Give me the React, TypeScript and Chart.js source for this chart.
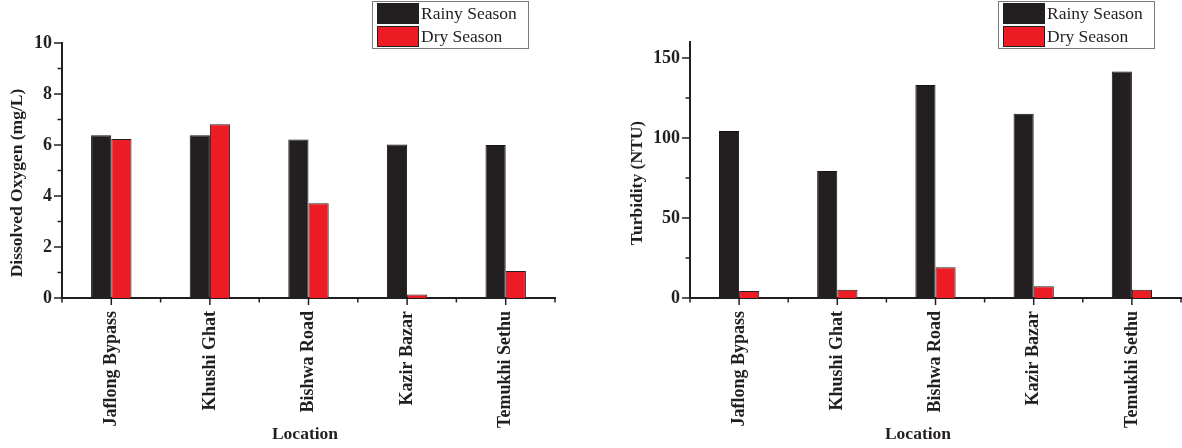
import React, { useEffect, useRef } from 'react';
import { Chart, registerables } from 'chart.js';

Chart.register(...registerables);

// ---------- data ----------
const LOCATIONS = ['Jaflong Bypass', 'Khushi Ghat', 'Bishwa Road', 'Kazir Bazar', 'Temukhi Sethu'];
const SERIES_NAMES = ['Rainy Season', 'Dry Season'];

const DO_RAINY = [6.38, 6.38, 6.22, 6.02, 6.0];
const DO_DRY = [6.24, 6.81, 3.72, 0.14, 1.06];

const TURB_RAINY = [104.4, 79.4, 133.1, 115.2, 141.5];
const TURB_DRY = [4.3, 5.2, 19.2, 7.3, 5.2];

const DO_TICKS = [0, 2, 4, 6, 8, 10];
const DO_MINOR_TICKS = [1, 3, 5, 7, 9];
const TURB_TICKS = [0, 50, 100, 150];
const TURB_MINOR_TICKS = [25, 75, 125];

const X_TITLE = 'Location';
const DO_TITLE = 'Dissolved Oxygen (mg/L)';
const TURB_TITLE = 'Turbidity (NTU)';

// ---------- style ----------
const INK = '#231f20';
const RAINY_COLOR = '#231f20';
const DRY_COLOR = '#ed1c24';
const FONT = '"Liberation Serif", "Times New Roman", serif';

const decorPlugin = {
  id: 'decor',
  afterDraw(chart: any, _args: any, opts: any) {
    const ctx = chart.ctx as CanvasRenderingContext2D;
    const xs = chart.scales.x;
    const ys = chart.scales.y;
    const area = chart.chartArea;
    ctx.save();
    ctx.strokeStyle = INK;
    ctx.lineWidth = 1.5;
    const line = (x1: number, y1: number, x2: number, y2: number) => {
      ctx.beginPath();
      ctx.moveTo(x1, y1);
      ctx.lineTo(x2, y2);
      ctx.stroke();
    };
    // y ticks
    for (const v of opts.majorTicks) {
      const py = ys.getPixelForValue(v);
      line(area.left - 8, py, area.left, py);
    }
    for (const v of opts.minorTicks) {
      const py = ys.getPixelForValue(v);
      line(area.left - 4.5, py, area.left, py);
    }
    // x ticks: centres (long) and boundaries (short)
    const n = chart.data.labels.length;
    for (let i = 0; i < n; i++) {
      const px = xs.getPixelForValue(i);
      line(px, area.bottom, px, area.bottom + 7);
    }
    for (let i = 0; i <= n; i++) {
      const px = xs.getPixelForValue(i - 0.5);
      line(px, area.bottom, px, area.bottom + 4.5);
    }
    // axis titles
    ctx.fillStyle = INK;
    ctx.font = `bold 17.5px ${FONT}`;
    ctx.textAlign = 'center';
    ctx.textBaseline = 'middle';
    ctx.fillText(opts.xTitle, opts.xTitleX, opts.xTitleY);
    ctx.save();
    ctx.translate(opts.yTitleX, opts.yTitleY);
    ctx.rotate(-Math.PI / 2);
    ctx.fillText(opts.yTitle, 0, 0);
    ctx.restore();
    // legend box
    const L = opts.legend;
    ctx.lineWidth = 1;
    ctx.strokeStyle = '#7a7a7a';
    ctx.fillStyle = '#ffffff';
    ctx.fillRect(L.x, L.y, L.w, L.h);
    ctx.strokeRect(L.x + 0.5, L.y + 0.5, L.w - 1, L.h - 1);
    ctx.font = `17.5px ${FONT}`;
    ctx.textAlign = 'left';
    chart.data.datasets.forEach((ds: any, i: number) => {
      const sy = L.y + 2.5 + i * 23;
      ctx.fillStyle = ds.backgroundColor;
      ctx.fillRect(L.x + 5.5, sy, 41, 20);
      ctx.strokeStyle = INK;
      ctx.strokeRect(L.x + 5.5, sy, 41, 20);
      ctx.fillStyle = INK;
      ctx.fillText(ds.label, L.x + 49, sy + 10.5);
    });
    ctx.restore();
  },
};

function makeConfig(p: {
  rainy: number[];
  dry: number[];
  max: number;
  ticks: number[];
  minor: number[];
  yWidth: number;
  padRight: number;
  padTop: number;
  yTitle: string;
  yTitleX: number;
  xTitleX: number;
  legendX: number;
}): any {
  return {
    type: 'bar',
    data: {
      labels: LOCATIONS,
      datasets: [
        { label: SERIES_NAMES[0], data: p.rainy, backgroundColor: RAINY_COLOR, borderColor: '#151313', borderWidth: 1 },
        { label: SERIES_NAMES[1], data: p.dry, backgroundColor: DRY_COLOR, borderColor: INK, borderWidth: 1 },
      ],
    },
    options: {
      responsive: false,
      animation: false,
      layout: { padding: { left: 0, right: p.padRight, top: p.padTop, bottom: 0 } },
      datasets: { bar: { categoryPercentage: 0.41, barPercentage: 1 } },
      plugins: {
        legend: { display: false },
        tooltip: { enabled: false },
        decor: {
          majorTicks: p.ticks,
          minorTicks: p.minor,
          xTitle: X_TITLE,
          xTitleX: p.xTitleX,
          xTitleY: 434,
          yTitle: p.yTitle,
          yTitleX: p.yTitleX,
          yTitleY: 183,
          legend: { x: p.legendX, y: 1, w: 157, h: 48 },
        },
      },
      scales: {
        x: {
          grid: { display: false, drawTicks: false },
          border: { display: true, color: INK, width: 2 },
          ticks: {
            autoSkip: false,
            minRotation: 90,
            maxRotation: 90,
            padding: 13,
            color: INK,
            font: { family: FONT, size: 18, weight: 'bold' },
          },
          afterFit: (s: any) => {
            s.height = 150;
          },
        },
        y: {
          min: 0,
          max: p.max,
          grid: { display: false, drawTicks: false },
          border: { display: true, color: INK, width: 2 },
          ticks: {
            padding: 10,
            color: INK,
            font: { family: FONT, size: 18, weight: 'bold' },
          },
          afterBuildTicks: (s: any) => {
            s.ticks = p.ticks.map((v) => ({ value: v }));
          },
          afterFit: (s: any) => {
            s.width = p.yWidth;
          },
        },
      },
    },
    plugins: [decorPlugin],
  };
}

function Panel({ left, config }: { left: number; config: any }) {
  const ref = useRef<HTMLCanvasElement>(null);
  useEffect(() => {
    const chart = new Chart(ref.current as HTMLCanvasElement, config);
    return () => chart.destroy();
  }, []);
  return (
    <canvas
      ref={ref}
      width={591}
      height={448}
      style={{ position: 'absolute', left, top: 0, width: 591, height: 448 }}
    />
  );
}

export default function App() {
  const doConfig = makeConfig({
    rainy: DO_RAINY,
    dry: DO_DRY,
    max: 10,
    ticks: DO_TICKS,
    minor: DO_MINOR_TICKS,
    yWidth: 62,
    padRight: 36,
    padTop: 43,
    yTitle: DO_TITLE,
    yTitleX: 17,
    xTitleX: 305,
    legendX: 372,
  });
  const turbConfig = makeConfig({
    rainy: TURB_RAINY,
    dry: TURB_DRY,
    max: 160,
    ticks: TURB_TICKS,
    minor: TURB_MINOR_TICKS,
    yWidth: 99,
    padRight: 1,
    padTop: 42,
    yTitle: TURB_TITLE,
    yTitleX: 46,
    xTitleX: 327,
    legendX: 407,
  });
  return (
    <div style={{ position: 'absolute', left: 0, top: 0, width: 1182, height: 448, background: '#ffffff' }}>
      <Panel left={0} config={doConfig} />
      <Panel left={591} config={turbConfig} />
    </div>
  );
}
